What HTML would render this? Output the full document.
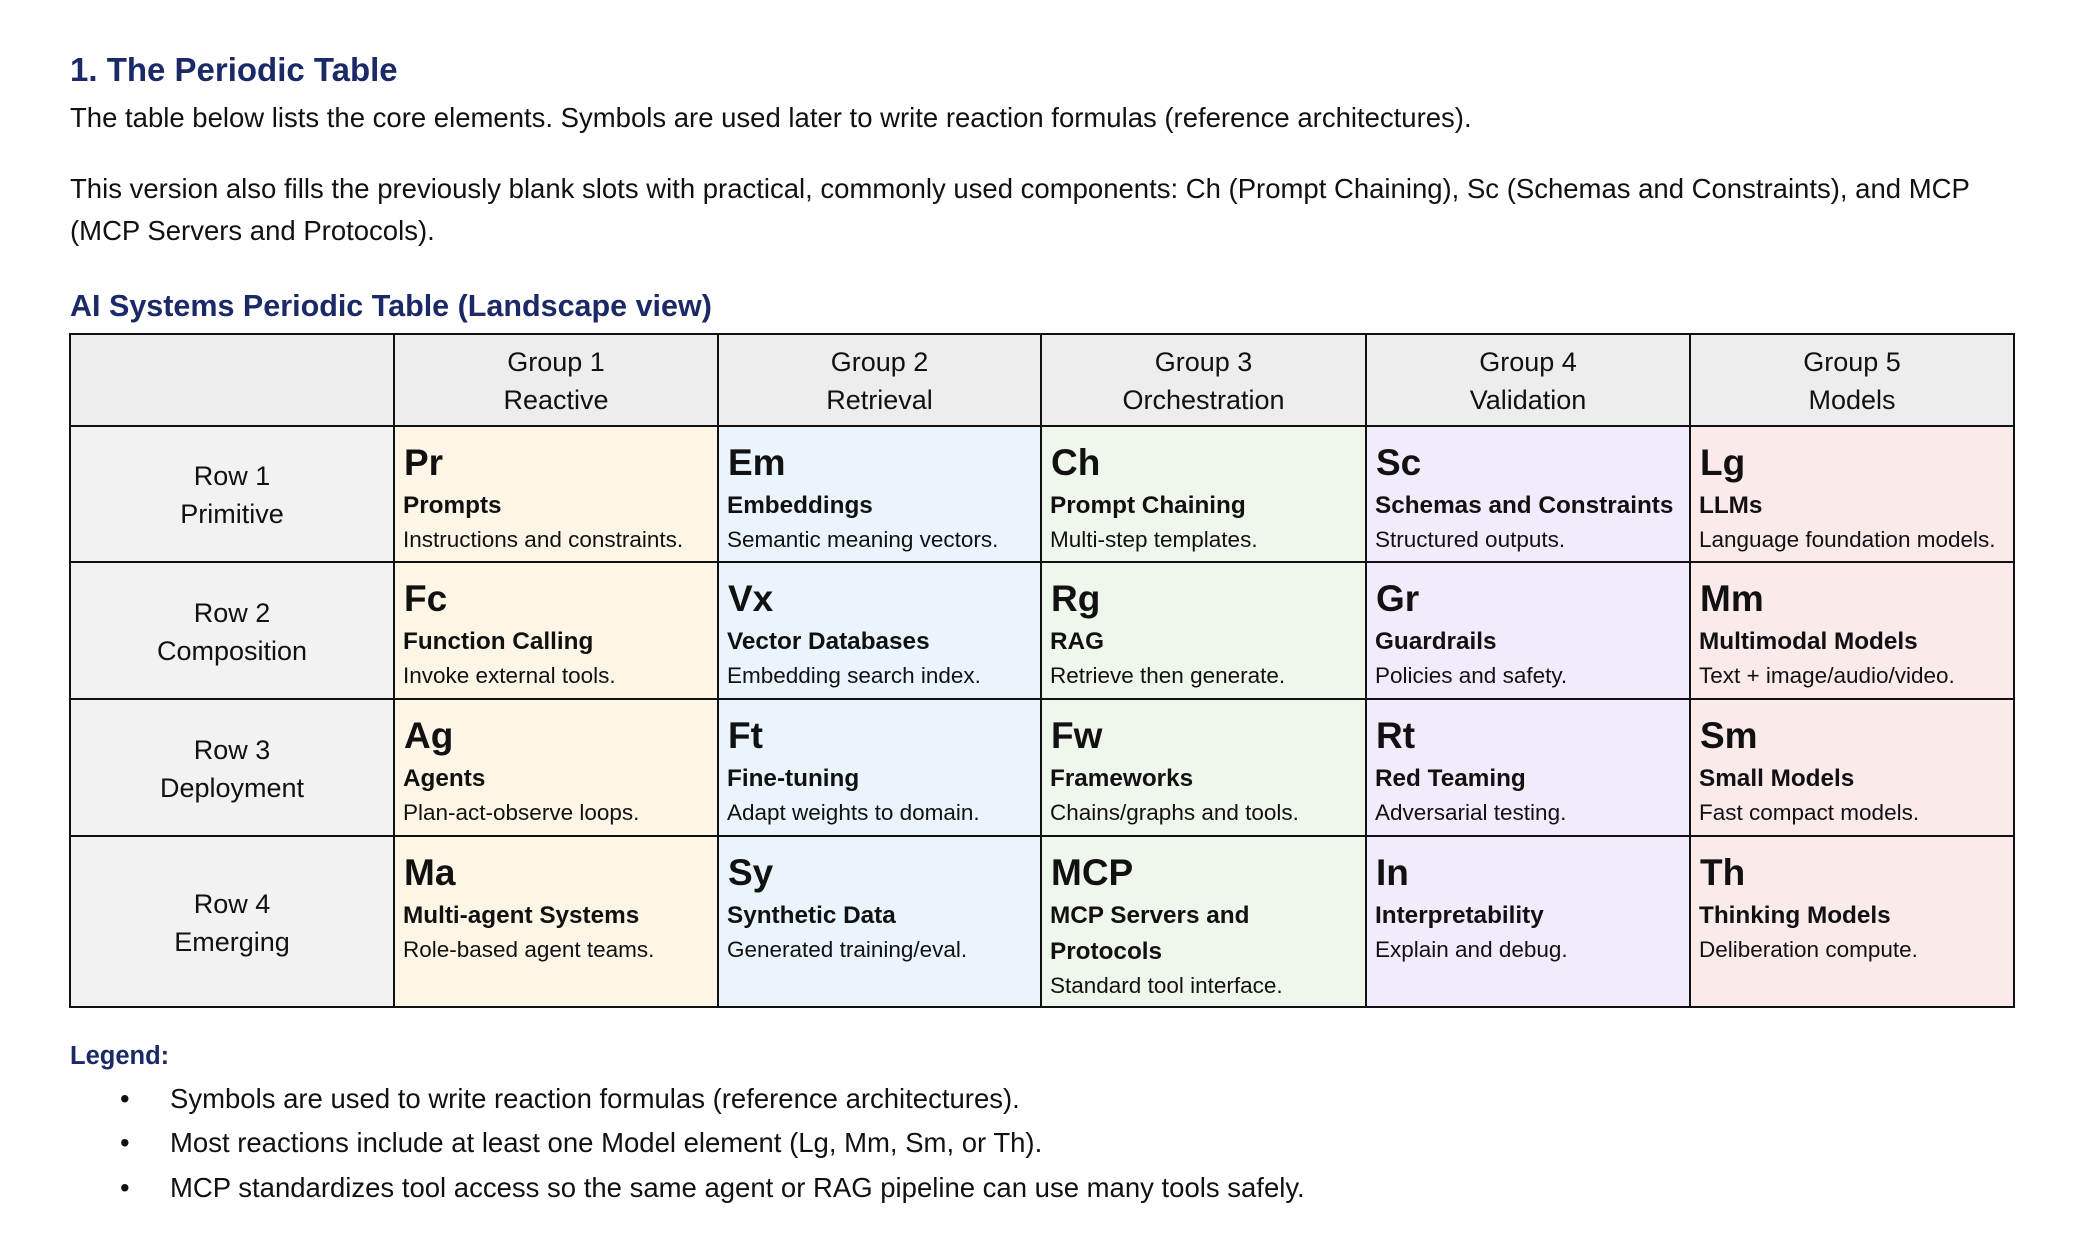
<!DOCTYPE html>
<html><head><meta charset="utf-8"><style>
*{margin:0;padding:0;box-sizing:border-box}
body{width:2094px;height:1246px;background:#fff;position:relative;font-family:"Liberation Sans",sans-serif;color:#111;overflow:hidden}
.a{position:absolute;white-space:nowrap}
.h{color:#1b2a66;font-weight:bold}
.p{font-size:27.5px;line-height:30px}
.cell{position:absolute;border:2px solid #111}
.sym{position:absolute;left:9px;font-weight:bold;font-size:37px;line-height:40px}
.nm{position:absolute;left:8px;font-weight:bold;font-size:24.3px;line-height:30px}
.ds{position:absolute;left:8px;font-size:22.5px;line-height:26px}
.ctr{position:absolute;left:0;right:0;text-align:center;font-size:27px;line-height:30px}
</style></head><body>
<div class="a h" style="left:70px;top:50px;font-size:33px;line-height:40px">1. The Periodic Table</div>
<div class="a p" style="left:70px;top:103px">The table below lists the core elements. Symbols are used later to write reaction formulas (reference architectures).</div>
<div class="a p" style="left:70px;top:174px">This version also fills the previously blank slots with practical, commonly used components: Ch (Prompt Chaining), Sc (Schemas and Constraints), and MCP</div>
<div class="a p" style="left:70px;top:216px">(MCP Servers and Protocols).</div>
<div class="a h" style="left:70px;top:287px;font-size:30.5px;line-height:38px">AI Systems Periodic Table (Landscape view)</div>
<div id="t"></div>
<div class="a h" style="left:70px;top:1041px;font-size:25.5px;line-height:30px">Legend:</div>
<div class="a p" style="left:120px;top:1084px">•</div>
<div class="a p" style="left:170px;top:1084px">Symbols are used to write reaction formulas (reference architectures).</div>
<div class="a p" style="left:120px;top:1128px">•</div>
<div class="a p" style="left:170px;top:1128px">Most reactions include at least one Model element (Lg, Mm, Sm, or Th).</div>
<div class="a p" style="left:120px;top:1173px">•</div>
<div class="a p" style="left:170px;top:1173px">MCP standardizes tool access so the same agent or RAG pipeline can use many tools safely.</div>
<script>
var xs=[69,393,717,1040,1365,1689,2013],ys=[333,425,561,698,835,1006];
var bg=['#fdf5e6','#eaf4fd','#eff6ec','#f1ebfb','#fbeaea'];
var hd=[['Group 1','Reactive'],['Group 2','Retrieval'],['Group 3','Orchestration'],['Group 4','Validation'],['Group 5','Models']];
var rl=[['Row 1','Primitive'],['Row 2','Composition'],['Row 3','Deployment'],['Row 4','Emerging']];
var d=[
[['Pr','Prompts','Instructions and constraints.'],['Em','Embeddings','Semantic meaning vectors.'],['Ch','Prompt Chaining','Multi-step templates.'],['Sc','Schemas and Constraints','Structured outputs.'],['Lg','LLMs','Language foundation models.']],
[['Fc','Function Calling','Invoke external tools.'],['Vx','Vector Databases','Embedding search index.'],['Rg','RAG','Retrieve then generate.'],['Gr','Guardrails','Policies and safety.'],['Mm','Multimodal Models','Text + image/audio/video.']],
[['Ag','Agents','Plan-act-observe loops.'],['Ft','Fine-tuning','Adapt weights to domain.'],['Fw','Frameworks','Chains/graphs and tools.'],['Rt','Red Teaming','Adversarial testing.'],['Sm','Small Models','Fast compact models.']],
[['Ma','Multi-agent Systems','Role-based agent teams.'],['Sy','Synthetic Data','Generated training/eval.'],['MCP','MCP Servers and','Standard tool interface.','Protocols'],['In','Interpretability','Explain and debug.'],['Th','Thinking Models','Deliberation compute.']]];
var h='';
function box(x0,y0,x1,y1,c,inner){return '<div class="cell" style="left:'+x0+'px;top:'+y0+'px;width:'+(x1-x0+2)+'px;height:'+(y1-y0+2)+'px;background:'+c+'">'+inner+'</div>';}
h+=box(xs[0],ys[0],xs[1],ys[1],'#ededed','');
for(var c=0;c<5;c++)h+=box(xs[c+1],ys[0],xs[c+2],ys[1],'#ededed','<div class="ctr" style="top:12px">'+hd[c][0]+'</div><div class="ctr" style="top:50px">'+hd[c][1]+'</div>');
for(var r=0;r<4;r++){
 var H=ys[r+2]-ys[r+1];var m=H/2;
 h+=box(xs[0],ys[r+1],xs[1],ys[r+2],'#f2f2f2','<div class="ctr" style="top:'+(m-34)+'px">'+rl[r][0]+'</div><div class="ctr" style="top:'+(m+4)+'px">'+rl[r][1]+'</div>');
 for(var c=0;c<5;c++){var e=d[r][c];
  var s='<div class="sym" style="top:16px">'+e[0]+'</div><div class="nm" style="top:64px">'+e[1]+'</div>';
  if(e[3]){s+='<div class="nm" style="top:100px">'+e[3]+'</div><div class="ds" style="top:136px">'+e[2]+'</div>';}
  else s+='<div class="ds" style="top:100px">'+e[2]+'</div>';
  h+=box(xs[c+1],ys[r+1],xs[c+2],ys[r+2],bg[c],s);}
}
document.getElementById('t').innerHTML=h;
</script>
</body></html>
